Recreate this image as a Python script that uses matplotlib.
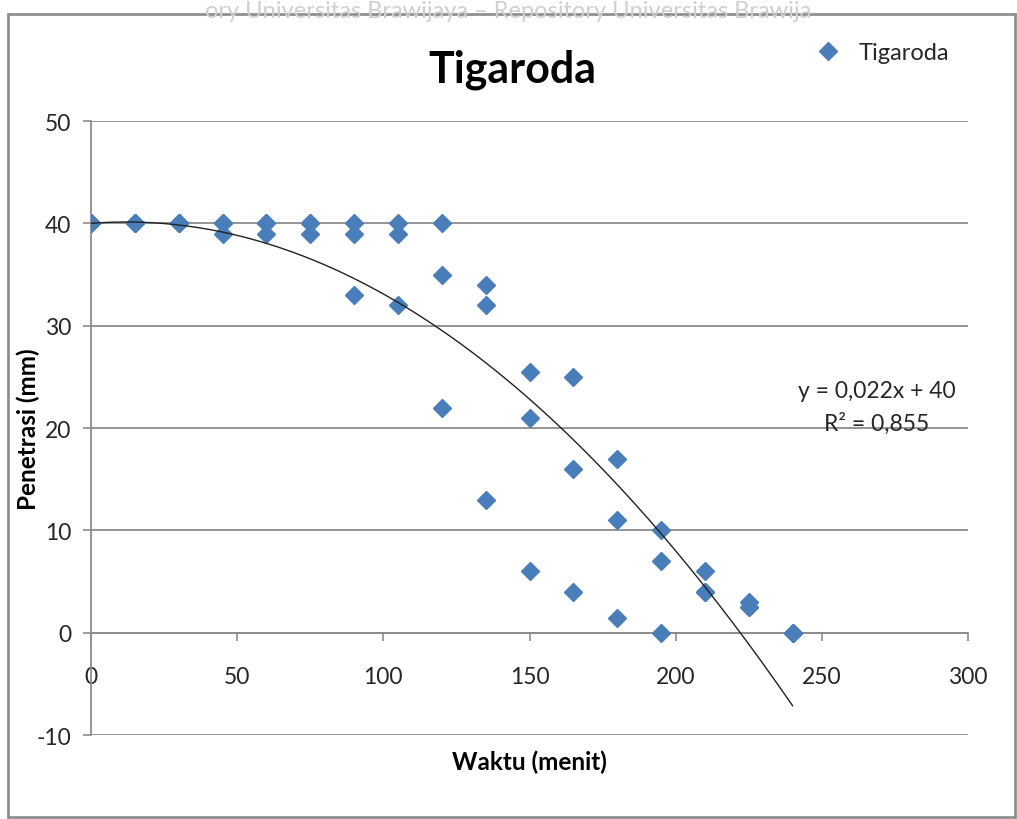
"""Tigaroda penetration vs time scatter with polynomial trendline."""
import matplotlib.pyplot as plt
import numpy as np
from matplotlib.patches import Rectangle

plt.rcParams['font.family'] = ['Lato', 'DejaVu Sans']
plt.rcParams['axes.unicode_minus'] = False

# data (three replicates per time, overlaps hidden)
waktu = [0, 0, 0, 15, 15, 15, 30, 30, 30, 45, 45, 45, 60, 60, 60,
         75, 75, 75, 90, 90, 90, 105, 105, 105, 120, 120, 120,
         135, 135, 135, 150, 150, 150, 165, 165, 165, 180, 180, 180,
         195, 195, 195, 210, 210, 210, 225, 225, 225, 240, 240, 240]
penetrasi = [40, 40, 40, 40, 40, 40, 40, 40, 40, 40, 40, 39, 40, 40, 39,
             40, 40, 39, 40, 39, 33, 40, 39, 32, 40, 35, 22,
             34, 32, 13, 25.5, 21, 6, 25, 16, 4, 17, 11, 1.4,
             10, 7, 0, 6, 4, 4, 3, 2.5, 2.5, 0, 0, 0]

# polynomial trendline coefficients (x^2, x, 1) as seen in the plot
trend_coef = [-0.00091, 0.022, 40.0]
trend_x_max = 240

x_ticks = [0, 50, 100, 150, 200, 250, 300]
y_ticks = [-10, 0, 10, 20, 30, 40, 50]

blue = '#4a7ebb'
grid_gray = '#8c8c8c'
text_col = '#262626'

fig = plt.figure(figsize=(10.17, 8.2), dpi=100)
ax = fig.add_axes([0.0895, 0.1024, 0.8623, 0.7488])

ax.plot(waktu, penetrasi, linestyle='none', marker='D', markersize=9.5,
        color=blue, label='Tigaroda', zorder=3)

tx = np.linspace(0, trend_x_max, 200)
ax.plot(tx, np.polyval(trend_coef, tx), color='#222222', lw=1.0, zorder=4)

ax.set_xlim(0, 300)
ax.set_ylim(-10, 50)
ax.set_xticks(x_ticks)
ax.set_yticks(y_ticks)

ax.grid(True, axis='y', color=grid_gray, lw=1.3)
ax.set_axisbelow(True)
for s in ['top', 'right']:
    ax.spines[s].set_visible(False)
ax.spines['bottom'].set_position(('data', 0))
ax.spines['bottom'].set_color(grid_gray)
ax.spines['bottom'].set_linewidth(1.3)
ax.spines['left'].set_color(grid_gray)
ax.spines['left'].set_linewidth(1.3)

ax.tick_params(axis='y', direction='out', length=6, width=1.2,
               color=grid_gray, pad=8, labelsize=16.5, labelcolor=text_col)
ax.tick_params(axis='x', direction='out', length=6, width=1.2,
               color=grid_gray, pad=18, labelsize=16.5, labelcolor=text_col)

fig.text(0.504, 1 - 70 / 820, 'Tigaroda', ha='center', va='center',
         fontsize=31, weight='bold', color='black')
fig.text(28 / 1017, 1 - 429 / 820, 'Penetrasi (mm)', rotation=90,
         ha='center', va='center', fontsize=17.5, weight='bold', color='black')
fig.text(529 / 1017, 1 - 762 / 820, 'Waktu (menit)', ha='center',
         va='center', fontsize=17.5, weight='bold', color='black')

fig.text(877 / 1017, 1 - 392 / 820, 'y = 0,022x + 40', ha='center',
         va='center', fontsize=16.5, color=text_col)
fig.text(877 / 1017, 1 - 424 / 820, 'R² = 0,855', ha='center',
         va='center', fontsize=16.5, color=text_col)

fig.legend(loc='center left', bbox_to_anchor=(804 / 1017, 1 - 54 / 820),
           frameon=False, fontsize=17, borderpad=0, handlelength=1.0,
           handletextpad=0.8, labelcolor=text_col)

# chart frame and faint repository watermark
fig.patches.append(Rectangle((8 / 1017, 2 / 820), 1007 / 1017, 803 / 820,
                             transform=fig.transFigure, fill=False,
                             edgecolor='#8f8f8f', lw=2.0))
fig.text(0.5, 1 - 1 / 820,
         'ory Universitas Brawijaya \u2013 Repository Universitas Brawija',
         ha='center', va='top', fontsize=17, color='#cfcfcf')

fig.savefig('out.png', dpi=100)
